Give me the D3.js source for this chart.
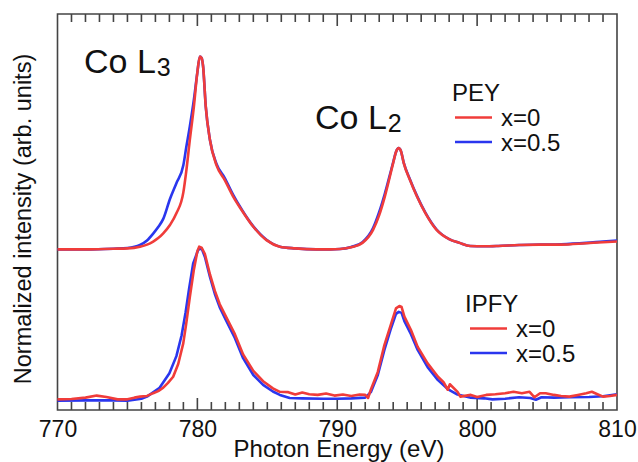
<!DOCTYPE html>
<html>
<head>
<meta charset="utf-8">
<script src="https://cdn.jsdelivr.net/npm/d3@7"></script>
<style>
  body { margin: 0; background: #fff; }
  text { font-family: "Liberation Sans", Arial, Helvetica, sans-serif; fill: #111; }
</style>
</head>
<body>
<svg id="chart" width="638" height="462"></svg>
<script>
// PEY spectra (offset upward), shared energy grid
const peyEnergy = [770, 772, 774, 775, 775.9, 776.4, 776.84, 777.2, 777.56, 778.04, 778.5, 779.0, 779.2, 779.46, 779.75, 779.99,
  780.18, 780.3, 780.41, 780.6, 780.9, 781.37, 781.96, 782.56, 783.16, 784.0, 784.94, 785.9, 787, 788.5, 789.5, 790.2,
  791, 791.8, 792.56, 793.0, 793.4, 794.0, 794.2, 794.39, 794.55, 794.75, 795.2, 795.7, 796.3, 797.1, 798, 798.75,
  799.5, 800.5, 801.5, 803, 804.5, 806, 807.8, 809, 810];
const peyX0 = [0.439, 0.439, 0.441, 0.442, 0.447, 0.453, 0.462, 0.472, 0.486, 0.510, 0.544, 0.606, 0.665, 0.758, 0.855, 0.952,
  1.001, 0.997, 0.972, 0.855, 0.758, 0.684, 0.641, 0.593, 0.554, 0.505, 0.466, 0.447, 0.442, 0.439, 0.439, 0.440,
  0.445, 0.458, 0.496, 0.539, 0.593, 0.691, 0.723, 0.734, 0.726, 0.691, 0.641, 0.593, 0.545, 0.496, 0.469, 0.458,
  0.449, 0.448, 0.449, 0.452, 0.453, 0.453, 0.457, 0.460, 0.462];
const peyX05 = [0.439, 0.439, 0.441, 0.443, 0.452, 0.465, 0.485, 0.504, 0.528, 0.586, 0.632, 0.685, 0.735, 0.797, 0.875, 0.952,
  1.001, 0.997, 0.972, 0.855, 0.758, 0.688, 0.647, 0.598, 0.556, 0.506, 0.467, 0.447, 0.442, 0.439, 0.439, 0.440,
  0.446, 0.460, 0.501, 0.548, 0.601, 0.693, 0.723, 0.734, 0.726, 0.692, 0.643, 0.595, 0.546, 0.497, 0.469, 0.458,
  0.449, 0.448, 0.449, 0.452, 0.453, 0.454, 0.458, 0.462, 0.465];

// IPFY spectra (noisier)
const ipfyEnergyX0 = [770, 771, 772, 772.8, 773.5, 774.3, 775, 775.5, 775.9, 776.4, 776.84, 777.2, 777.56, 777.9, 778.27, 778.63,
  778.99, 779.2, 779.46, 779.75, 779.99, 780.13, 780.3, 780.54, 780.9, 781.25, 781.6, 782.08, 782.68, 783.27, 784.0, 784.7,
  785.4, 785.9, 786.5, 787.0, 787.5, 788.0, 788.6, 789.2, 789.8, 790.4, 791.0, 791.6, 792.0, 792.2, 792.4, 792.9,
  793.37, 793.85, 794.2, 794.44, 794.6, 794.8, 795.27, 795.75, 796.46, 797.2, 797.6, 797.9, 798.05, 798.6, 798.8, 799.55,
  800.0, 800.65, 801.3, 802.0, 802.6, 803.2, 803.75, 804.1, 804.5, 804.9, 805.5, 806.0, 806.6, 807.2, 807.8, 808.2,
  808.6, 809.0, 809.5, 810];
const ipfyX0 = [0.002, 0.003, 0.007, 0.013, 0.009, 0.002, 0.002, 0.007, 0.010, 0.012, 0.020, 0.026, 0.036, 0.050, 0.068, 0.105,
  0.165, 0.222, 0.300, 0.380, 0.432, 0.447, 0.444, 0.425, 0.366, 0.318, 0.279, 0.240, 0.192, 0.133, 0.085, 0.055,
  0.034, 0.024, 0.023, 0.016, 0.022, 0.017, 0.015, 0.019, 0.013, 0.016, 0.012, 0.016, 0.015, 0.006, 0.030, 0.082,
  0.160, 0.222, 0.267, 0.274, 0.271, 0.243, 0.204, 0.155, 0.107, 0.068, 0.052, 0.030, 0.046, 0.024, 0.010, 0.015,
  0.009, 0.015, 0.017, 0.020, 0.024, 0.020, 0.024, 0.008, 0.020, 0.020, 0.015, 0.012, 0.010, 0.015, 0.020, 0.024,
  0.017, 0.010, 0.012, 0.015];
const ipfyEnergyX05 = [770, 772, 774, 775, 776, 776.4, 777.3, 778.0, 778.5, 778.87, 779.16, 779.4, 779.7, 780.06, 780.3, 780.54,
  780.9, 781.25, 781.6, 782.08, 782.68, 783.27, 784.0, 784.7, 785.4, 785.9, 786.6, 787.5, 789, 790, 791, 792,
  792.4, 792.9, 793.37, 793.85, 794.2, 794.4, 794.6, 794.8, 795.27, 795.75, 796.46, 797.2, 797.9, 798.6, 799.55, 800.5,
  801.1, 802, 803, 803.8, 804.2, 804.6, 805.5, 806.6, 808, 809, 810];
const ipfyX05 = [-0.002, -0.001, -0.001, -0.002, 0.004, 0.010, 0.036, 0.078, 0.128, 0.188, 0.256, 0.322, 0.398, 0.438, 0.442, 0.417,
  0.359, 0.309, 0.270, 0.230, 0.181, 0.122, 0.073, 0.044, 0.025, 0.015, 0.006, 0.005, 0.004, 0.004, 0.005, 0.007,
  0.023, 0.073, 0.146, 0.210, 0.251, 0.257, 0.254, 0.230, 0.192, 0.146, 0.096, 0.058, 0.032, 0.016, 0.007, 0.005,
  0.002, 0.004, 0.008, 0.006, 0.001, 0.008, 0.007, 0.008, 0.009, 0.011, 0.017];

const majorTicks = [770, 780, 790, 800, 810];
const minorTicks = d3.range(771, 810).filter(d => d % 10 !== 0);
const seriesLabels = ["x=0", "x=0.5"];
const colors = ["#f03c3a", "#2a36ee"];

const svg = d3.select("#chart");
const plotL = 57.5, plotR = 617, plotT = 14, plotB = 410;

const x = d3.scaleLinear().domain([770, 810]).range([plotL, plotR]);
const y = d3.scaleLinear().domain([-0.029, 1.125]).range([plotB, plotT]);

// frame plus inward ticks, built as one path so both share the same stroke
const path = d3.path();
path.rect(plotL, plotT, plotR - plotL, plotB - plotT);
minorTicks.map(v => [v, 8]).concat(majorTicks.map(v => [v, 12])).forEach(([v, len]) => {
  path.moveTo(x(v), plotB); path.lineTo(x(v), plotB - len);
  path.moveTo(x(v), plotT); path.lineTo(x(v), plotT + len);
});
svg.append("path")
  .attr("d", path.toString())
  .attr("fill", "none").attr("stroke", "#444").attr("stroke-width", 1.6);

// tick labels
svg.append("g").attr("transform", `translate(0,${plotB})`)
  .call(d3.axisBottom(x).tickValues(majorTicks).tickSize(0).tickPadding(11).tickFormat(d3.format("d")))
  .call(g => g.select(".domain").remove())
  .selectAll("text").style("font-size", "23px").style("fill", "#111");

// axis titles
svg.append("text")
  .attr("x", 339).attr("y", 457)
  .attr("text-anchor", "middle").style("font-size", "24px")
  .text("Photon Energy (eV)");
svg.append("text")
  .attr("transform", "translate(31,219) rotate(-90)")
  .attr("text-anchor", "middle").style("font-size", "23.5px")
  .text("Normalized intensity (arb. units)");

// curves
const smooth = d3.line().x(d => x(d[0])).y(d => y(d[1])).curve(d3.curveMonotoneX);
const jagged = d3.line().x(d => x(d[0])).y(d => y(d[1]));

const curves = [
  { pts: d3.zip(ipfyEnergyX05, ipfyX05), color: colors[1], gen: jagged },
  { pts: d3.zip(ipfyEnergyX0, ipfyX0), color: colors[0], gen: jagged },
  { pts: d3.zip(peyEnergy, peyX05), color: colors[1], gen: smooth },
  { pts: d3.zip(peyEnergy, peyX0), color: colors[0], gen: smooth }
];
svg.append("g").selectAll("path").data(curves).enter().append("path")
  .attr("d", d => d.gen(d.pts))
  .attr("fill", "none")
  .attr("stroke", d => d.color)
  .attr("stroke-width", 2.6)
  .attr("stroke-linejoin", "round");

// edge labels
function edgeLabel(px, py, sub) {
  const t = svg.append("text").attr("x", px).attr("y", py).style("font-size", "34px");
  t.append("tspan").text("Co L");
  t.append("tspan").attr("dy", 3).attr("dx", 1).style("font-size", "25px").text(sub);
}
edgeLabel(84, 73, "3");
edgeLabel(315, 129, "2");

// legends
function legend(title, tx, ty, lx) {
  const g = svg.append("g");
  g.append("text").attr("x", tx).attr("y", ty).style("font-size", "24px").text(title);
  seriesLabels.forEach((lab, i) => {
    const yy = ty + 25 + i * 24.5;
    g.append("line")
      .attr("x1", lx).attr("x2", lx + 37)
      .attr("y1", yy - 8.5).attr("y2", yy - 8.5)
      .attr("stroke", colors[i]).attr("stroke-width", 2.6);
    g.append("text").attr("x", lx + 46).attr("y", yy).style("font-size", "24px").text(lab);
  });
}
legend("PEY", 452, 101, 455);
legend("IPFY", 465, 312, 470);
</script>
</body>
</html>
